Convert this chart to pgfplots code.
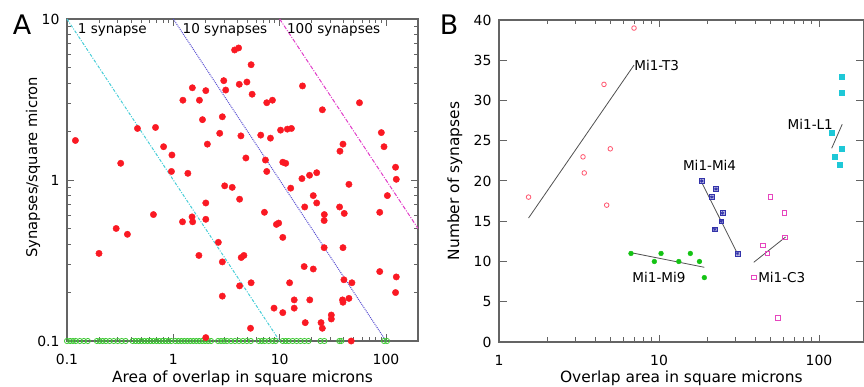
\documentclass[border=0pt]{standalone}
\usepackage{fontspec}
\setmainfont{DejaVu Sans}
\usepackage{pgfplots}
\usepackage{pgfplotstable}
\pgfplotsset{compat=1.18}

\definecolor{axgray}{RGB}{100,100,100}
\definecolor{dotred}{RGB}{250,25,35}
\definecolor{circgreen}{RGB}{60,200,50}
\definecolor{lcyan}{RGB}{70,205,215}
\definecolor{lblue}{RGB}{90,80,210}
\definecolor{lmag}{RGB}{225,60,200}
\definecolor{t3red}{RGB}{255,85,110}
\definecolor{mi4blue}{RGB}{50,50,170}
\definecolor{mi9green}{RGB}{20,195,20}
\definecolor{c3mag}{RGB}{230,70,190}
\definecolor{l1cyan}{RGB}{30,200,215}
\definecolor{fitgray}{RGB}{80,80,80}
\tikzset{tk/.style={draw=axgray, line width=1bp}}

\pgfplotstableread{
x y
0.12 1.76
0.32 1.27
0.46 2.09
0.68 2.12
0.81 1.61
0.97 1.43
0.96 1.13
1.37 1.10
1.23 3.13
1.51 3.74
1.76 3.13
2.02 3.59
1.88 2.37
2.09 1.67
2.73 1.95
2.89 2.47
2.98 4.14
3.11 3.62
3.77 6.42
4.11 6.61
4.17 3.93
4.92 4.06
5.39 5.20
5.51 3.41
4.32 1.88
4.81 1.37
6.64 1.90
8.19 1.82
7.56 3.02
8.55 3.13
10.2 2.04
11.8 2.07
12.9 2.09
7.35 1.33
7.56 1.13
10.7 1.29
11.4 1.27
16.4 3.84
25.2 2.73
56.3 3.02
39.4 1.67
36.9 1.51
90.4 1.97
95.8 1.61
123 1.20
125 1.01
16.2 1.02
19.1 1.07
22.3 1.11
44.8 0.94
3.04 0.92
3.58 0.90
4.20 0.76
12.7 0.89
20.7 0.80
103 0.80
0.20 0.35
0.29 0.50
0.37 0.46
0.65 0.61
1.22 0.55
1.50 0.59
1.52 0.55
2.02 0.72
2.02 0.57
1.74 0.34
2.02 0.105
2.65 0.41
2.89 0.31
2.89 0.19
4.35 0.33
4.61 0.34
4.20 0.22
5.39 0.23
5.32 0.12
7.19 0.63
9.32 0.53
9.79 0.54
10.7 0.44
8.85 0.16
10.7 0.15
12.4 0.23
13.7 0.18
13.7 0.16
17.0 0.29
20.7 0.28
17.4 0.13
19.2 0.18
22.3 0.72
17.2 0.68
26.3 0.61
26.2 0.56
26.2 0.38
24.5 0.13
25.2 0.12
30.6 0.145
30.6 0.137
36.6 0.68
40.5 0.62
39.4 0.38
40.2 0.24
39.0 0.18
39.4 0.174
44.8 0.184
47.8 0.23
47.1 0.10
87.3 0.63
87.3 0.27
125 0.25
123 0.20
}\reddots

\pgfplotstableread{
x y
0.100 0.1
0.107 0.1
0.114 0.1
0.121 0.1
0.132 0.1
0.144 0.1
0.157 0.1
0.191 0.1
0.203 0.1
0.217 0.1
0.232 0.1
0.252 0.1
0.275 0.1
0.300 0.1
0.327 0.1
0.356 0.1
0.414 0.1
0.442 0.1
0.471 0.1
0.502 0.1
0.536 0.1
0.572 0.1
0.610 0.1
0.650 0.1
0.694 0.1
0.740 0.1
0.789 0.1
0.842 0.1
0.898 0.1
0.958 0.1
1.044 0.1
1.114 0.1
1.188 0.1
1.267 0.1
1.351 0.1
1.442 0.1
1.538 0.1
1.641 0.1
1.750 0.1
1.866 0.1
1.991 0.1
2.124 0.1
2.265 0.1
2.634 0.1
2.810 0.1
2.997 0.1
3.197 0.1
3.484 0.1
3.797 0.1
4.140 0.1
4.511 0.1
4.916 0.1
5.358 0.1
6.364 0.1
6.789 0.1
7.241 0.1
7.893 0.1
8.603 0.1
9.177 0.1
10.67 0.1
11.38 0.1
12.14 0.1
13.23 0.1
14.42 0.1
15.71 0.1
17.13 0.1
18.67 0.1
24.17 0.1
26.34 0.1
36.37 0.1
37.97 0.1
95.8 0.1
102.2 0.1
}\greencircles

\begin{document}
\begin{tikzpicture}[font=\fontsize{13.6}{16}\selectfont]
\path[use as bounding box] (0bp,0bp) rectangle (864bp,387bp);

% ---------------- Panel A ----------------
\begin{axis}[
  scale only axis, anchor=south west,
  at={(67bp,46bp)}, width=351bp, height=322bp,
  xmode=log, ymode=log,
  xmin=0.1, xmax=200, ymin=0.1, ymax=10,
  axis line style={draw=axgray, line width=1.1bp},
  every tick/.append style={draw=none},
  tick label style={font=\fontsize{14}{16}\selectfont},
  /pgf/number format/assume math mode=true,
  xtick={0.1,1,10,100}, xticklabels={0.1,1,10,100},
  ytick={0.1,1,10}, yticklabels={0.1,1,10},
  yticklabel style={xshift=-4bp},
  xticklabel style={yshift=-10bp},
  xlabel={Area of overlap in square microns},
  ylabel={Synapses/square micron},
  xlabel style={at={(axis description cs:0.5,-0.115)}, anchor=center, font=\fontsize{15.5}{18}\selectfont},
  ylabel style={at={(axis description cs:-0.097,0.54)}, anchor=center, font=\fontsize{14.8}{17}\selectfont},
  clip=false,
]
% ticks
\pgfplotsinvokeforeach{0.1,1,10,100}{
  \draw[tk] (axis cs:#1,0.1) -- ++(0bp,7bp);
  \draw[tk] (axis cs:#1,10) -- ++(0bp,-7bp);
}
\pgfplotsinvokeforeach{0.2,0.3,0.4,0.5,0.6,0.7,0.8,0.9,2,3,4,5,6,7,8,9,20,30,40,50,60,70,80,90}{
  \draw[tk] (axis cs:#1,0.1) -- ++(0bp,4.5bp);
  \draw[tk] (axis cs:#1,10) -- ++(0bp,-4.5bp);
}
\pgfplotsinvokeforeach{0.1,1,10}{
  \draw[tk] (axis cs:0.1,#1) -- ++(7bp,0bp);
  \draw[tk] (axis cs:200,#1) -- ++(-7bp,0bp);
}
\pgfplotsinvokeforeach{0.2,0.3,0.4,0.5,0.6,0.7,0.8,0.9,2,3,4,5,6,7,8,9}{
  \draw[tk] (axis cs:0.1,#1) -- ++(4.5bp,0bp);
  \draw[tk] (axis cs:200,#1) -- ++(-4.5bp,0bp);
}
\addplot[lcyan, line width=1bp, dash pattern=on 3bp off 1.5bp on 1bp off 1.5bp] coordinates {(0.1,10) (10,0.1)};
\addplot[lblue, line width=1bp, densely dotted] coordinates {(1,10) (100,0.1)};
\addplot[lmag, line width=1bp, dash pattern=on 4bp off 1.5bp on 1bp off 1.5bp] coordinates {(10,10) (200,0.5)};
\addplot[only marks, mark=o, mark size=2.6bp, circgreen, mark options={line width=0.8bp}] table {\greencircles};
\addplot[only marks, mark=*, mark size=3.2bp, dotred, mark options={draw=dotred, fill=dotred}] table {\reddots};
\node[anchor=west, inner sep=0pt] at (axis cs:0.126,8.5) {1 synapse};
\node[anchor=west, inner sep=0pt] at (axis cs:1.22,8.5) {10 synapses};
\node[anchor=west, inner sep=0pt] at (axis cs:11.7,8.5) {100 synapses};
\end{axis}

% ---------------- Panel B ----------------
\begin{axis}[
  scale only axis, anchor=south west,
  at={(499bp,45bp)}, width=364.6bp, height=322bp,
  xmode=log,
  xmin=1, xmax=190, ymin=0, ymax=40,
  axis line style={draw=axgray, line width=1.1bp},
  every tick/.append style={draw=none},
  tick label style={font=\fontsize{14}{16}\selectfont},
  /pgf/number format/assume math mode=true,
  xtick={1,10,100}, xticklabels={1,10,100},
  ytick={0,5,10,15,20,25,30,35,40},
  yticklabels={0,5,10,15,20,25,30,35,40},
  yticklabel style={xshift=-4bp},
  xticklabel style={yshift=-10bp},
  xlabel={Overlap area in square microns},
  ylabel={Number of synapses},
  xlabel style={at={(axis description cs:0.5,-0.112)}, anchor=center, font=\fontsize{15.5}{18}\selectfont},
  ylabel style={at={(axis description cs:-0.121,0.50)}, anchor=center, font=\fontsize{15.5}{18}\selectfont},
  clip=false,
]
% ticks
\pgfplotsinvokeforeach{1,10,100}{
  \draw[tk] (axis cs:#1,0) -- ++(0bp,7bp);
  \draw[tk] (axis cs:#1,40) -- ++(0bp,-7bp);
}
\pgfplotsinvokeforeach{2,3,4,5,6,7,8,9,20,30,40,50,60,70,80,90}{
  \draw[tk] (axis cs:#1,0) -- ++(0bp,4.5bp);
  \draw[tk] (axis cs:#1,40) -- ++(0bp,-4.5bp);
}
\pgfplotsinvokeforeach{0,5,10,15,20,25,30,35,40}{
  \draw[tk] (axis cs:1,#1) -- ++(7.5bp,0bp);
  \draw[tk] (axis cs:190,#1) -- ++(-7.5bp,0bp);
}
% Mi1-T3
\addplot[only marks, mark=o, mark size=2.3bp, t3red, mark options={line width=0.8bp}] coordinates {
(6.98,39) (4.53,32) (3.35,23) (3.41,21) (4.96,24) (1.53,18) (4.71,17)};
\addplot[fitgray, line width=0.8bp] coordinates {(1.53,15.4) (6.98,34.4)};
\node[anchor=west, inner sep=0pt] at (axis cs:7.0,34.3) {Mi1-T3};
% Mi1-Mi4
\addplot[only marks, mark=square*, mark size=2.4bp, mi4blue, mark options={fill=mi4blue!35, draw=mi4blue, line width=0.6bp}] coordinates {
(18.5,20) (22.7,19) (21.4,18) (24.9,16) (24.5,15) (22.3,14) (30.9,11)};
\addplot[only marks, mark=asterisk, mark size=2.0bp, mi4blue, mark options={line width=0.6bp}] coordinates {
(18.5,20) (22.7,19) (21.4,18) (24.9,16) (24.5,15) (22.3,14) (30.9,11)};
\addplot[fitgray, line width=0.8bp] coordinates {(18.5,19.8) (30.9,11.0)};
\node[inner sep=0pt] at (axis cs:20.7,21.9) {Mi1-Mi4};
% Mi1-Mi9
\addplot[only marks, mark=*, mark size=2.4bp, mi9green, mark options={draw=mi9green, fill=mi9green}] coordinates {
(6.68,11) (10.3,11) (9.35,10) (13.3,10) (15.7,11) (17.9,10) (19.2,8)};
\addplot[fitgray, line width=0.8bp] coordinates {(6.68,11.1) (19.2,9.28)};
\node[inner sep=0pt] at (axis cs:10.0,8.0) {Mi1-Mi9};
% Mi1-C3
\addplot[only marks, mark=square, mark size=2.3bp, c3mag, mark options={line width=0.8bp}] coordinates {
(49.6,18) (60.7,16) (61.3,13) (44.7,12) (47.5,11) (39.1,8) (55.4,3)};
\addplot[fitgray, line width=0.8bp] coordinates {(39.1,9.9) (61.8,13.04)};
\node[anchor=west, inner sep=0pt] at (axis cs:41.6,8.0) {Mi1-C3};
% Mi1-L1
\addplot[only marks, mark=square*, mark size=2.6bp, l1cyan, mark options={draw=l1cyan, fill=l1cyan}] coordinates {
(137.8,33) (139.2,31) (120.6,26) (139.2,24) (125.4,23) (134,22)};
\addplot[fitgray, line width=0.8bp] coordinates {(120,24.06) (139.6,27.04)};
\node[anchor=east, inner sep=0pt] at (axis cs:122.4,27.0) {Mi1-L1};
\end{axis}

\node[font=\fontsize{27}{30}\selectfont, inner sep=0pt] at (22bp,362bp) {A};
\node[font=\fontsize{27}{30}\selectfont, inner sep=0pt] at (449bp,362bp) {B};
\end{tikzpicture}
\end{document}
